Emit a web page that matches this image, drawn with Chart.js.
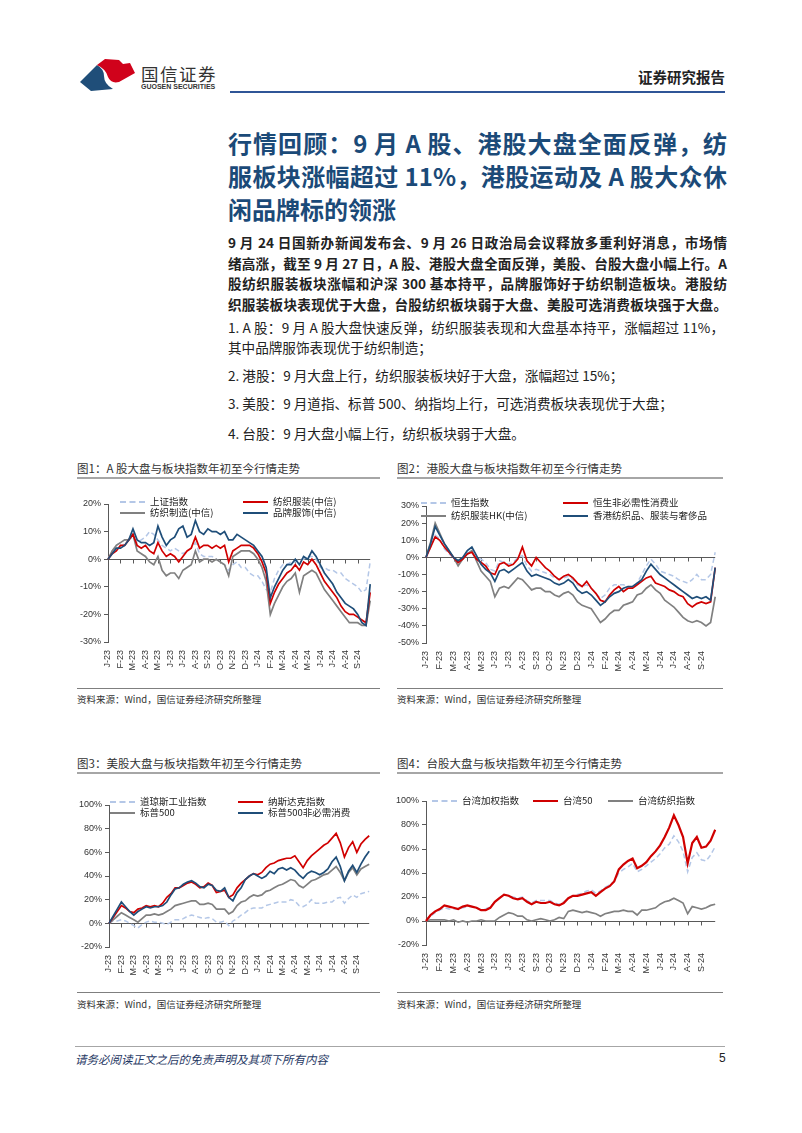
<!DOCTYPE html>
<html>
<head>
<meta charset="utf-8">
<script src="https://cdn.jsdelivr.net/npm/chart.js@4.4.0/dist/chart.umd.min.js"></script>
<style>
body { margin: 0; background: #fff; font-family: "Noto Sans CJK SC", "Liberation Sans", sans-serif; color: #222; }
#page { position: relative; width: 802px; height: 1133px; overflow: hidden; }
.abs { position: absolute; white-space: nowrap; }
.title { color: #1b4a78; font-weight: bold; font-size: 24px; line-height: 33px; width: 499px; }
.title div, .para div, .jl { text-align: justify; text-align-last: justify; }
.para { font-weight: bold; font-size: 13.6px; line-height: 20.5px; width: 499px; }
.item { font-size: 13.6px; }
.ctitle { font-size: 11.5px; color: #333; }
.cline { height: 2px; background: #a6a6a6; }
.sline { height: 1px; background: #7f7f7f; }
.src { font-size: 9.5px; color: #333; }
.leg { font-size: 9.5px; color: #222; line-height: 11px; }
.leg span.s { display: inline-block; width: 25px; vertical-align: middle; margin-right: 5px; }
</style>
</head>
<body>
<div id="page">

  <!-- header -->
  <svg class="abs" style="left:78px;top:55px" width="60" height="38" viewBox="0 0 60 38">
    <path d="M2,27 L19,10 Q26,14 26,21 Q26,29 35,34 L13,36 Z" fill="#1f4e79"/>
    <path d="M19,10 L27,4 L41,5 L45,9 L52,8 L57,18 L41,27 Q33,29 30,22 Q28,14 19,10 Z" fill="#d0021b"/>
  </svg>
  <div class="abs" style="left:141px;top:61px;font-size:17.5px;color:#333;letter-spacing:1.5px">国信证券</div>
  <div class="abs" style="left:141px;top:83px;font-size:7px;font-weight:bold;color:#333;font-family:'Liberation Sans'">GUOSEN SECURITIES</div>
  <div class="abs" style="right:77px;top:66px;font-size:14.5px;font-weight:bold;color:#222">证券研究报告</div>
  <div class="abs" style="left:230px;top:91px;width:495px;height:2px;background:#2f5597"></div>

  <!-- heading -->
  <div class="abs title" style="left:228px;top:126px">
    <div>行情回顾：9 月 A 股、港股大盘全面反弹，纺</div>
    <div>服板块涨幅超过 11%，港股运动及 A 股大众休</div>
    <div style="text-align-last:left">闲品牌标的领涨</div>
  </div>

  <div class="abs para" style="left:228px;top:232px">
    <div>9 月 24 日国新办新闻发布会、9 月 26 日政治局会议释放多重利好消息，市场情</div>
    <div>绪高涨，截至 9 月 27 日，A 股、港股大盘全面反弹，美股、台股大盘小幅上行。A</div>
    <div>股纺织服装板块涨幅和沪深 300 基本持平，品牌服饰好于纺织制造板块。港股纺</div>
    <div>织服装板块表现优于大盘，台股纺织板块弱于大盘、美股可选消费板块强于大盘。</div>
  </div>

  <div class="abs item jl" style="left:228px;top:317px;width:496px">1. A 股：9 月 A 股大盘快速反弹，纺织服装表现和大盘基本持平，涨幅超过 11%，</div>
  <div class="abs item" style="left:228px;top:337px">其中品牌服饰表现优于纺织制造；</div>
  <div class="abs item" style="left:228px;top:365px">2. 港股：9 月大盘上行，纺织服装板块好于大盘，涨幅超过 15%；</div>
  <div class="abs item" style="left:228px;top:393px">3. 美股：9 月道指、标普 500、纳指均上行，可选消费板块表现优于大盘；</div>
  <div class="abs item" style="left:228px;top:423px">4. 台股：9 月大盘小幅上行，纺织板块弱于大盘。</div>

  <!-- chart frames -->
  <div class="abs ctitle" style="left:77px;top:460px">图1：A 股大盘与板块指数年初至今行情走势</div>
  <div class="abs cline" style="left:77px;top:477px;width:303px"></div>
  <div class="abs ctitle" style="left:397px;top:460px">图2：港股大盘与板块指数年初至今行情走势</div>
  <div class="abs cline" style="left:397px;top:477px;width:326px"></div>
  <div class="abs" style="left:72px;top:494px;width:309px;height:179px"><canvas id="c1"></canvas></div>
  <div class="abs" style="left:390px;top:496px;width:336px;height:178px"><canvas id="c2"></canvas></div>
  <div class="abs sline" style="left:77px;top:688px;width:303px"></div>
  <div class="abs sline" style="left:397px;top:688px;width:326px"></div>
  <div class="abs src" style="left:77px;top:692px">资料来源：Wind，国信证券经济研究所整理</div>
  <div class="abs src" style="left:397px;top:692px">资料来源：Wind，国信证券经济研究所整理</div>

  <div class="abs ctitle" style="left:77px;top:755px">图3：美股大盘与板块指数年初至今行情走势</div>
  <div class="abs cline" style="left:77px;top:772px;width:303px"></div>
  <div class="abs ctitle" style="left:397px;top:755px">图4：台股大盘与板块指数年初至今行情走势</div>
  <div class="abs cline" style="left:397px;top:772px;width:326px"></div>
  <div class="abs" style="left:73px;top:795px;width:307px;height:183px"><canvas id="c3"></canvas></div>
  <div class="abs" style="left:390px;top:791px;width:336px;height:185px"><canvas id="c4"></canvas></div>
  <div class="abs sline" style="left:77px;top:992px;width:303px"></div>
  <div class="abs sline" style="left:397px;top:992px;width:326px"></div>
  <div class="abs src" style="left:77px;top:997px">资料来源：Wind，国信证券经济研究所整理</div>
  <div class="abs src" style="left:397px;top:997px">资料来源：Wind，国信证券经济研究所整理</div>

  <!-- footer -->
  <div class="abs" style="left:75px;top:1046px;width:650px;height:1px;background:#a6a6a6"></div>
  <div class="abs" style="left:75px;top:1051px;font-size:11.5px;font-style:italic;color:#1f3864">请务必阅读正文之后的免责声明及其项下所有内容</div>
  <div class="abs" style="left:719px;top:1051px;font-size:12px;color:#222;font-family:'Liberation Sans'">5</div>
</div>

<script>
// month ticks, Jan 2023 .. Sep 2024
const monthTicks = ['J-23','F-23','M-23','A-23','M-23','J-23','J-23','A-23','S-23','O-23','N-23','D-23',
                    'J-24','F-24','M-24','A-24','M-24','J-24','J-24','A-24','S-24'];

// 3 readings a month (around 1st, 11th, 21st) plus the last day (27 Sep)
const labels = [];
monthTicks.forEach(m => labels.push(m, '', ''));
labels.push('');

// fig 1 - A shares, % since start of 2023
const shIndex  = [0,3,5, 6,5,7, 8,6,7, 8,10,9, 7,5,4, 3,4,3, 2,3,4, 6,2,1, 1,1,0, -1,-2,-4, -2,-1,-3, -3,-5,-6,
                  -6,-8,-11, -12,-7,-4, -2,-2,-1, -1,0,0, 1,1,0, -3,-3,-4, -4,-5,-5, -7,-8,-9, -10,-12,-11, -1];
const aTextile = [0,2,3, 5,5,7, 9,5,4, 5,3,2, 6,3,1, 2,1,-1, 1,3,4, 8,4,5, 5,4,5, 4,5,-1, 3,4,5, 5,5,4,
                  2,-1,-5, -16,-12,-9, -7,-5,-4, -2,-4,-1, -2,0,-2, -5,-8,-10, -12,-14,-17, -19,-20,-20, -21,-22,-23, -12];
const aManuf   = [0,3,5, 6,7,7, 9,3,2, 1,-1,-2, 1,-4,-6, -5,-5,-7, -4,-3,-2, 3,-1,0, 0,-1,0, -1,-2,-6, 1,2,3, 3,3,2,
                  0,-3,-8, -20,-16,-13, -10,-8,-7, -5,-12,-6, -5,-4,-5, -8,-11,-13, -15,-17,-19, -21,-23,-23, -23,-24,-24, -15];
const aBrand   = [0,2,4, 4,5,7, 11,7,6, 6,5,6, 12,8,5, 7,8,11, 12,8,9, 14,10,9, 11,10,10, 9,10,7, 7,9,8, 7,6,5,
                  3,1,-3, -14,-10,-7, -4,-2,-2, 0,-2,1, 0,3,1, -2,-5,-7, -9,-12,-14, -16,-17,-18, -20,-23,-24, -9];

// fig 2 - Hong Kong
const hsi        = [0,6,13, 11,5,2, 0,-3,0, 3,2,0, -1,-3,-7, -8,-2,-3, -4,-3,0, 1,-5,-8, -7,-8,-9, -10,-12,-13, -12,-11,-13, -16,-17,-16,
                    -18,-21,-24, -22,-18,-16, -16,-16,-17, -18,-15,-10, -5,-1,-4, -8,-9,-10, -11,-13,-14, -15,-13,-10, -13,-13,-10, 3];
const hsConsumer = [0,6,12, 10,6,3, 0,-3,-1, 2,3,-1, -3,-5,-9, -10,-4,-3, -5,-4,-1, 6,-2,-5, 0,-3,-6, -8,-11,-13, -11,-10,-12, -15,-17,-14,
                    -18,-21,-25, -26,-22,-19, -17,-20,-18, -18,-16,-14, -12,-11,-15, -16,-17,-19, -20,-22,-23, -27,-29,-27, -26,-27,-26, -6];
const hkTextile  = [0,9,20, 14,8,4, 0,-5,-1, 2,4,-2, -8,-11,-14, -23,-18,-17, -18,-15,-12, -13,-16,-19, -18,-18,-20, -20,-22,-23, -21,-20,-22, -26,-28,-29,
                    -30,-34,-38, -36,-33,-31, -31,-28,-27, -26,-22,-21, -18,-16,-19, -21,-25,-27, -29,-32,-35, -37,-38,-37, -38,-40,-38, -23];
const hkLuxury   = [0,8,18, 13,8,4, 0,-2,0, 4,6,1, -4,-7,-9, -14,-8,-7, -9,-7,-5, -3,-8,-11, -10,-11,-12, -13,-15,-16, -15,-13,-15, -19,-21,-20,
                    -22,-25,-28, -26,-23,-21, -20,-18,-17, -17,-15,-13, -8,-4,-7, -10,-12,-14, -16,-18,-20, -22,-24,-23, -24,-23,-25, -6];

// fig 3 - US
const dow      = [0,2,2, 3,2,0, -2,-4,-1, 1,2,1, 1,0,-1, 1,3,3, 4,6,7, 6,5,4, 5,4,1, 1,2,-2, 2,4,7, 9,12,13,
                  13,13,15, 16,17,18, 18,18,20, 19,15,14, 16,20,17, 17,17,18, 18,21,22, 17,21,24, 22,25,26, 27];
const nasdaq   = [0,5,10, 15,13,10, 9,12,13, 15,14,15, 14,17,22, 25,30,30, 32,34,35, 33,30,31, 34,32,26, 27,28,22, 24,30,34, 37,40,42,
                  41,43,47, 50,51,53, 54,55,55, 57,52,47, 53,57,60, 63,66,68, 72,76,68, 56,64,69, 60,67,71, 74];
const sp500    = [0,3,6, 9,7,5, 3,1,4, 7,7,8, 7,8,10, 12,15,16, 17,18,19, 19,16,16, 17,16,12, 12,12,8, 10,15,18, 19,22,24,
                  23,24,27, 28,30,32, 33,35,37, 36,32,30, 33,36,37, 39,41,42, 45,48,43, 36,43,47, 41,46,48, 50];
const sp500Cd  = [0,6,12, 18,14,10, 7,10,12, 14,13,14, 14,15,18, 24,29,30, 33,35,36, 34,31,30, 33,32,28, 27,30,22, 19,26,30, 37,40,42,
                  40,38,40, 44,42,46, 47,45,47, 45,41,38, 42,44,43, 41,43,46, 52,56,48, 36,44,49, 43,50,56, 61];

// fig 4 - Taiwan
const taiex     = [0,4,7, 9,11,10, 10,10,11, 12,12,11, 9,10,12, 16,19,22, 21,20,19, 20,17,15, 17,17,17, 17,15,14, 16,19,21, 22,23,25,
                   26,23,25, 28,30,33, 40,43,45, 48,41,43, 46,49,52, 56,61,64, 71,66,58, 41,53,57, 51,50,55, 62];
const tw50      = [0,5,8, 10,13,12, 11,10,12, 13,12,11, 9,9,11, 16,19,22, 21,19,18, 19,16,14, 16,15,15, 16,14,13, 15,19,21, 21,22,23,
                   24,21,24, 27,29,33, 43,47,50, 52,44,46, 49,54,58, 63,70,78, 88,80,70, 48,65,70, 61,62,67, 76];
const twTextile = [0,1,1, 1,1,0, 1,-1,0, -1,0,0, 1,0,0, 0,3,5, 7,6,4, 4,1,0, 1,2,1, 0,1,3, 2,8,9, 8,7,8,
                   7,6,4, 6,7,8, 8,9,8, 8,5,9, 9,10,11, 14,16,17, 19,17,15, 6,12,11, 10,11,13, 14];

const LB = '#b4c7e7', RED = '#d00000', GRAY = '#808080', NAVY = '#1f4e79';

// x axis sits on the 0% line with month tick marks, labels stay at the bottom
const zeroAxis = {
  id: 'zeroAxis',
  beforeDatasetsDraw(chart) {
    const { ctx, chartArea, scales: { x, y } } = chart;
    const y0 = Math.round(y.getPixelForValue(0)) + 0.5;
    ctx.save();
    ctx.strokeStyle = '#595959';
    ctx.lineWidth = 1;
    ctx.beginPath();
    ctx.moveTo(chartArea.left, y0);
    ctx.lineTo(chartArea.right, y0);
    x.ticks.forEach((t, i) => {
      if (t.label) {
        const px = Math.round(x.getPixelForTick(i)) + 0.5;
        ctx.moveTo(px, y0);
        ctx.lineTo(px, y0 + 4);
      }
    });
    ctx.stroke();
    ctx.restore();
  }
};

function lineChart(id, sets, yMin, yMax, step) {
  new Chart(document.getElementById(id), {
    type: 'line',
    data: {
      labels: labels,
      datasets: sets.map(s => ({
        label: s.label, data: s.data, borderColor: s.color, borderWidth: s.width || 1.7,
        borderDash: s.dash ? [5, 3] : [], pointRadius: 0, tension: 0, fill: false, order: s.order
      }))
    },
    options: {
      responsive: true, maintainAspectRatio: false, animation: false,
      layout: { padding: { top: 10, right: 3, left: 0, bottom: 0 } },
      plugins: { legend: { display: false }, tooltip: { enabled: false } },
      scales: {
        x: {
          grid: { display: false }, border: { display: false },
          ticks: { autoSkip: false, minRotation: 90, maxRotation: 90, padding: 0, color: '#333',
                   font: { size: 9, family: 'Liberation Sans' } },
          afterFit: s => { s.height = 31; }
        },
        y: {
          min: yMin, max: yMax,
          border: { display: true, color: '#595959' },
          grid: { drawOnChartArea: false, drawTicks: true, tickLength: 4, color: '#595959' },
          ticks: { stepSize: step, padding: 3, color: '#333', font: { size: 9, family: 'Liberation Sans' },
                   callback: v => v + '%' },
          afterFit: s => { s.width = 36; }
        }
      }
    },
    plugins: [zeroAxis]
  });
}

function legend(items) {
  const page = document.getElementById('page');
  items.forEach(it => {
    const d = document.createElement('div');
    d.className = 'abs leg';
    d.style.left = it.x + 'px';
    d.style.top = (it.y - 6) + 'px';
    const line = it.dash ? 'border-top:2px dashed ' + it.color : 'border-top:2px solid ' + it.color;
    d.innerHTML = '<span class="s" style="' + line + '"></span>' + it.text;
    page.appendChild(d);
  });
}

lineChart('c1', [
  { label: '上证指数', data: shIndex, color: LB, dash: true, width: 1.5, order: 4 },
  { label: '纺织服装(中信)', data: aTextile, color: RED, order: 2 },
  { label: '纺织制造(中信)', data: aManuf, color: GRAY, order: 3 },
  { label: '品牌服饰(中信)', data: aBrand, color: NAVY, order: 1 }
], -30, 20, 10);

lineChart('c2', [
  { label: '恒生指数', data: hsi, color: LB, dash: true, width: 1.5, order: 4 },
  { label: '恒生非必需性消费业', data: hsConsumer, color: RED, order: 2 },
  { label: '纺织服装HK(中信)', data: hkTextile, color: GRAY, order: 3 },
  { label: '香港纺织品、服装与奢侈品', data: hkLuxury, color: NAVY, order: 1 }
], -50, 30, 10);

lineChart('c3', [
  { label: '道琼斯工业指数', data: dow, color: LB, dash: true, width: 1.5, order: 4 },
  { label: '纳斯达克指数', data: nasdaq, color: RED, order: 2 },
  { label: '标普500', data: sp500, color: GRAY, order: 3 },
  { label: '标普500非必需消费', data: sp500Cd, color: NAVY, order: 1 }
], -20, 100, 20);

lineChart('c4', [
  { label: '台湾加权指数', data: taiex, color: LB, dash: true, width: 1.5, order: 2 },
  { label: '台湾50', data: tw50, color: RED, width: 2.2, order: 1 },
  { label: '台湾纺织指数', data: twTextile, color: GRAY, order: 3 }
], -20, 100, 20);

legend([
  { x: 120, y: 502, text: '上证指数', color: LB, dash: true },
  { x: 243, y: 502, text: '纺织服装(中信)', color: RED },
  { x: 120, y: 513, text: '纺织制造(中信)', color: GRAY },
  { x: 243, y: 513, text: '品牌服饰(中信)', color: NAVY },
  { x: 421, y: 503, text: '恒生指数', color: LB, dash: true },
  { x: 563, y: 503, text: '恒生非必需性消费业', color: RED },
  { x: 421, y: 516, text: '纺织服装HK(中信)', color: GRAY },
  { x: 563, y: 516, text: '香港纺织品、服装与奢侈品', color: NAVY },
  { x: 110, y: 802, text: '道琼斯工业指数', color: LB, dash: true },
  { x: 238, y: 802, text: '纳斯达克指数', color: RED },
  { x: 110, y: 813, text: '标普500', color: GRAY },
  { x: 238, y: 813, text: '标普500非必需消费', color: NAVY },
  { x: 432, y: 801, text: '台湾加权指数', color: LB, dash: true },
  { x: 533, y: 801, text: '台湾50', color: RED },
  { x: 608, y: 801, text: '台湾纺织指数', color: GRAY }
]);
</script>
</body>
</html>
